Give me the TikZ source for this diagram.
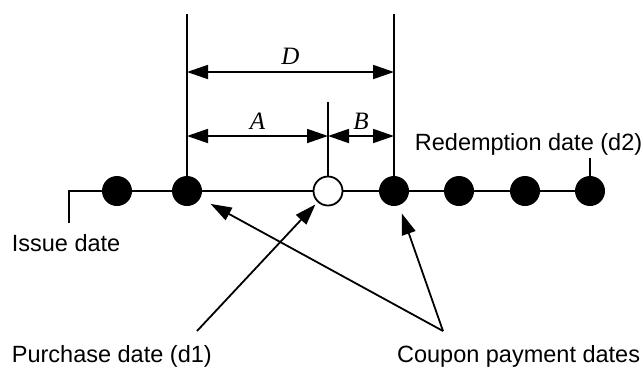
\documentclass[tikz,border=0pt]{standalone}
\usepackage{fontspec}
\setmainfont{Liberation Sans}
\newfontfamily\lblfont{Liberation Serif}
\usepackage{tikz}
\tikzset{x=1pt,y=-1pt}
\usetikzlibrary{arrows.meta}

\tikzset{
  coupon/.style={circle, inner sep=0pt, minimum size=30pt},
  buy/.style={circle, inner sep=0pt, minimum size=30pt},
  dimline/.style={line width=1.8pt, {Triangle[length=21pt,width=14pt]}-{Triangle[length=21pt,width=14pt]}},
  pointer/.style={line width=1.8pt, -{Triangle[length=21pt,width=14pt]}},
  caption/.style={inner sep=0pt, font=\fontsize{23.5}{28}\selectfont},
  dimlabel/.style={inner sep=0pt, font=\fontsize{25}{30}\selectfont\lblfont\itshape}
}

\begin{document}
\begin{tikzpicture}[line width=1.8pt]
  \useasboundingbox (0,0) rectangle (644,368);
  % time line
  \coordinate (issue) at (69,191);
  \coordinate (issue low) at (69,223);
  \node[coupon] (c1) at (117,191) {};
  \node[coupon] (c2) at (187,191) {};
  \node[buy]    (p)  at (328,191) {};
  \node[coupon] (c3) at (394,191) {};
  \node[coupon] (c4) at (459,191) {};
  \node[coupon] (c5) at (525,191) {};
  \node[coupon] (c6) at (590,191) {};
  \draw (issue low) -- (issue) -- (c1.center) -- (c6.center);
  % vertical markers
  \coordinate (top left) at (187,14);
  \coordinate (top right) at (394,14);
  \coordinate (top buy) at (328,102);
  \coordinate (top red) at (590,158);
  \draw (top left) -- (c2.center);
  \draw (top right) -- (c3.center);
  \draw (top buy) -- (p.center);
  \draw (top red) -- (c6.center);
  % dots on top of the lines
  \foreach \c in {c1,c2,c3,c4,c5,c6}
    \fill (\c) circle (15pt);
  \draw[fill=white] (p) circle (14.5pt);
  % dimensions
  \draw[dimline] (187,72) -- node[dimlabel, above=7pt] (lD) {D} (394,72);
  \draw[dimline] (187,136) -- node[dimlabel, above=6pt] (lA) {A} (328,136);
  \draw[dimline] (328,136) -- node[dimlabel, above=6pt] (lB) {B} (394,136);
  % captions
  \node[caption, anchor=base west] (issuetxt) at (11,251.5) {Issue date};
  \node[caption, anchor=base west] (redtxt) at (414,150.5) {Redemption date (d2)};
  \node[caption, anchor=base west] (pdtxt) at (11,362) {Purchase date (d1)};
  \node[caption, anchor=base east] (cptxt) at (641,362) {Coupon payment dates};
  % pointers
  \coordinate (pd tail) at (197,331);
  \coordinate (cp tail) at (443,331);
  \draw[pointer, shorten >=2.5pt] (pd tail) -- (p);
  \draw[pointer, shorten >=11pt] (cp tail) -- (c2);
  \draw[pointer, shorten >=8pt] (cp tail) -- (c3);
\end{tikzpicture}
\end{document}
